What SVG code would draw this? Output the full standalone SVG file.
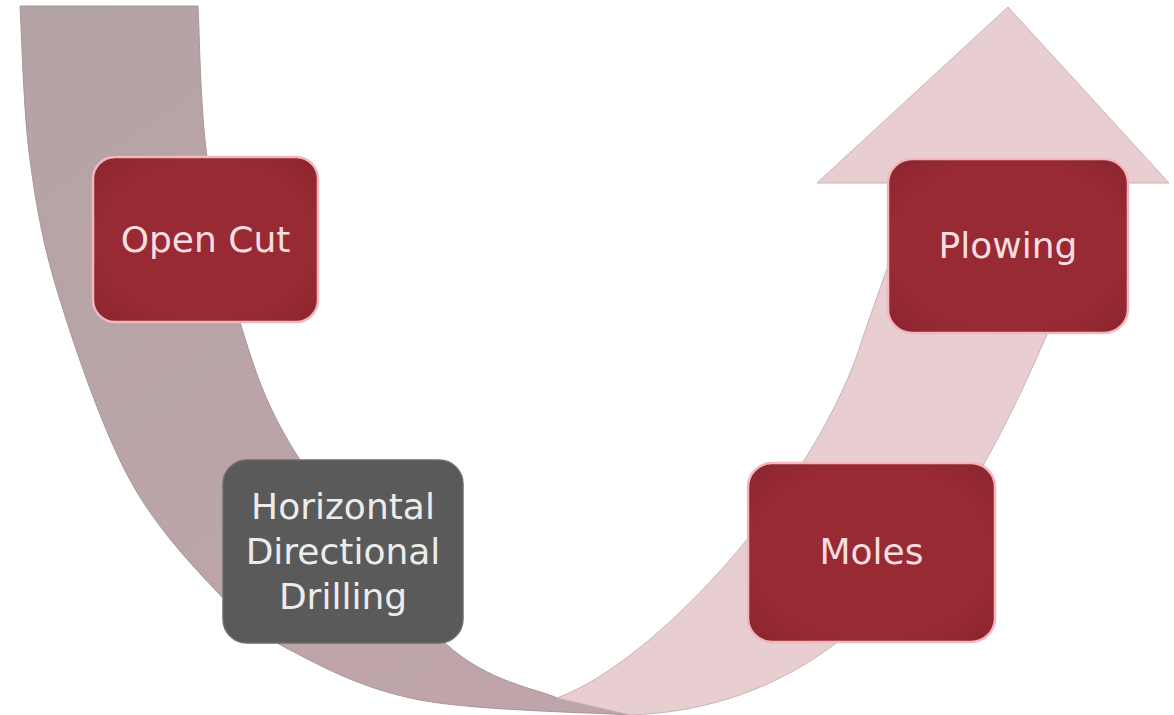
<svg xmlns="http://www.w3.org/2000/svg" width="1174" height="715" viewBox="0 0 1174 715">
  <style>
    .box-red { fill: url(#redFill); stroke: #f1b7bc; stroke-width: 2.5; }
    .box-gray { fill: #5b5a5b; stroke: #6e6c6d; stroke-width: 1.5; }
    .lbl { font-family: "DejaVu Sans", "Liberation Sans", sans-serif; font-size: 36px; text-anchor: middle; }
    .lbl-red { fill: #f8dde1; }
    .lbl-gray { fill: #ececec; }
  </style>
  <defs>
    <linearGradient id="darkBand" x1="0" y1="0" x2="0.6" y2="1">
      <stop offset="0" stop-color="#b4a3a5"/>
      <stop offset="1" stop-color="#bfa5aa"/>
    </linearGradient>
    <radialGradient id="redFill" cx="0.5" cy="0.5" r="0.75">
      <stop offset="0.65" stop-color="#982a33"/>
      <stop offset="1" stop-color="#88242d"/>
    </radialGradient>
  </defs>
  <rect width="1174" height="715" fill="#ffffff"/>

  <g id="connectors">
    <path id="band-left" fill="url(#darkBand)" stroke="#a8979a" stroke-width="1"
      d="M20,6 L198,6
         C199.5,31.2 200,104.3 207,157
         C214,209.7 224.5,271.5 240,322
         C255.5,372.5 265.8,406.5 300,460
         C334.2,513.5 402.2,603.3 445,643
         C487.8,682.7 538.3,688.8 557,698
         L630,715
         C595,712.5 476.7,710.8 420,700
         C363.3,689.2 323,667.2 290,650
         C257,632.8 248.7,625.3 222,597
         C195.3,568.7 157,529.5 130,480
         C103,430.5 76.7,353.3 60,300
         C43.3,246.7 36.7,209 30,160
         C23.3,111 21.7,31.7 20,6 Z"/>
    <path id="band-right" fill="#e8ced1" stroke="#c8b3b6" stroke-width="1"
      d="M557,698
         C660,660 820,480 863,337
         L917,183
         L817,183 L1008,7 L1169,183 L1109,183
         C1020,400 920,705 630,715 Z"/>
  </g>

  <g id="node-open-cut">
    <rect class="box-red" x="93" y="157" width="225" height="165" rx="22"/>
    <text class="lbl lbl-red" x="205.5" y="252">Open Cut</text>
  </g>

  <g id="node-hdd">
    <rect class="box-gray" x="223" y="460" width="240" height="183" rx="24"/>
    <text class="lbl lbl-gray" x="343" y="519">Horizontal</text>
    <text class="lbl lbl-gray" x="343" y="564">Directional</text>
    <text class="lbl lbl-gray" x="343" y="609">Drilling</text>
  </g>

  <g id="node-moles">
    <rect class="box-red" x="748" y="463" width="247" height="179" rx="24"/>
    <text class="lbl lbl-red" x="871.5" y="564">Moles</text>
  </g>

  <g id="node-plowing">
    <rect class="box-red" x="888" y="159" width="240" height="174" rx="24"/>
    <text class="lbl lbl-red" x="1008" y="258">Plowing</text>
  </g>
</svg>
